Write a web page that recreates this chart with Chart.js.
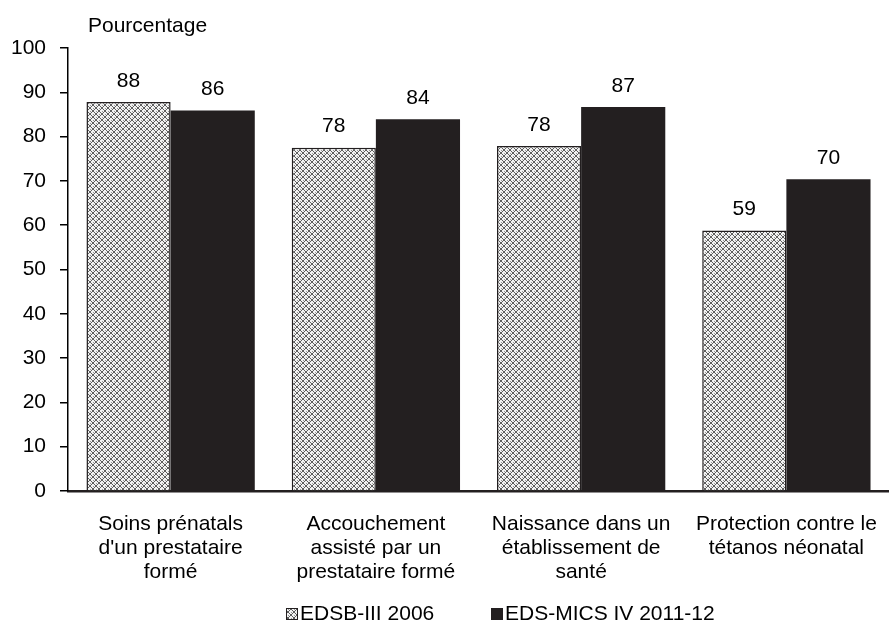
<!DOCTYPE html>
<html><head><meta charset="utf-8">
<script src="https://cdn.jsdelivr.net/npm/chart.js@4/dist/chart.umd.min.js"></script>
<style>html,body{margin:0;padding:0;background:#fff}#wrap{width:889px;height:632px}</style>
</head><body><div id="wrap"><canvas id="c" width="889" height="632"></canvas></div>
<script>
const categories = [
  ["Soins prénatals", "d'un prestataire", "formé"],
  ["Accouchement", "assisté par un", "prestataire formé"],
  ["Naissance dans un", "établissement de", "santé"],
  ["Protection contre le", "tétanos néonatal"]
];
const seriesNames = ["EDSB-III 2006", "EDS-MICS IV 2011-12"];
const edsb2006 = [87.8, 77.5, 77.9, 58.8];
const edsmics2011 = [85.9, 83.9, 86.7, 70.4];
const yTicks = [0,10,20,30,40,50,60,70,80,90,100];

function makePattern(){
  const t = document.createElement('canvas');
  t.width = 6; t.height = 6;
  const g = t.getContext('2d');
  g.fillStyle = '#f2f2f2'; g.fillRect(0,0,6,6);
  g.fillStyle = '#5e5e5e';
  for (let i=0;i<6;i++){
    g.fillRect(i,i,1,1);
    g.fillRect(5-i,i,1,1);
  }
  g.fillStyle = '#999';
  g.fillRect(3,0,1,1); g.fillRect(0,3,1,1);
  return document.getElementById('c').getContext('2d').createPattern(t,'repeat');
}
const hatch = makePattern();
const FONT = "'Liberation Sans', Arial, sans-serif";
const FS = 21;

const extras = {
  id: 'extras',
  afterDatasetsDraw(chart){
    const ctx = chart.ctx;
    ctx.save();
    ctx.fillStyle = '#000';
    ctx.font = FS + 'px ' + FONT;
    ctx.textAlign = 'center';
    ctx.textBaseline = 'middle';
    chart.data.datasets.forEach((ds, di) => {
      chart.getDatasetMeta(di).data.forEach((bar, i) => {
        ctx.fillText(String(Math.round(ds.data[i])), bar.x, bar.y - 21);
      });
    });
    ctx.textAlign = 'left';
    ctx.fillText('Pourcentage', 88, 26);

    // legend
    const ly = 614, bs = 12;
    const items = [{x: 286}, {x: 491}];
    chart.data.datasets.forEach((ds, di) => {
      const x = items[di].x;
      ctx.fillStyle = ds.backgroundColor;
      ctx.fillRect(x, ly - bs/2, bs, bs);
      if (di === 0) {
        ctx.strokeStyle = '#231f20'; ctx.lineWidth = 1;
        ctx.strokeRect(x + 0.5, ly - bs/2 + 0.5, bs - 1, bs - 1);
      }
      ctx.fillStyle = '#000';
      ctx.fillText(ds.label, x + bs + 2, ly);
    });
    ctx.restore();
  }
};

new Chart(document.getElementById('c'), {
  type: 'bar',
  data: {
    labels: categories,
    datasets: [
      { label: seriesNames[0], data: edsb2006, backgroundColor: hatch, borderColor: '#231f20', borderWidth: 1.5, borderSkipped: 'bottom' },
      { label: seriesNames[1], data: edsmics2011, backgroundColor: '#231f20', borderColor: '#231f20', borderWidth: 0 }
    ]
  },
  plugins: [extras],
  options: {
    responsive: false,
    animation: false,
    devicePixelRatio: 1,
    categoryPercentage: 0.82,
    barPercentage: 1,
    layout: { padding: { top: 48, right: 0, left: 0, bottom: 0 } },
    plugins: {
      tooltip: { enabled: false },
      title: { display: false },
      legend: { display: false }
    },
    scales: {
      x: {
        grid: { display: false, drawTicks: false },
        border: { display: true, color: '#231f20', width: 2.5 },
        ticks: { font: { family: FONT, size: FS, lineHeight: 1.15 }, color: '#000', padding: 21, maxRotation: 0, autoSkip: false },
        afterFit(s){ s.height = 141; s.paddingLeft = 0; s.paddingRight = 0; }
      },
      y: {
        min: 0, max: 100,
        afterBuildTicks(s){ s.ticks = yTicks.map(v => ({ value: v })); },
        grid: { display: true, drawOnChartArea: false, drawTicks: true, tickLength: 8, color: '#000', lineWidth: 1.5 },
        border: { display: true, color: '#000', width: 1.5 },
        ticks: { font: { family: FONT, size: FS }, color: '#000', padding: 14 },
        afterFit(s){ s.width = 68; s.paddingTop = 0; s.paddingBottom = 0; }
      }
    }
  }
});
</script></body></html>
